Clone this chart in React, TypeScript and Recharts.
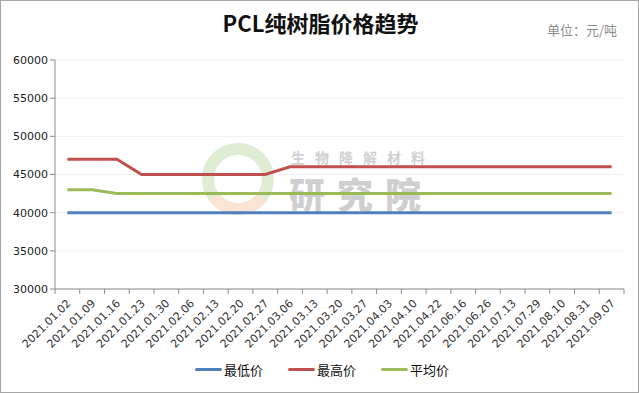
import { LineChart, Line, XAxis, YAxis, CartesianGrid } from 'recharts';

const dates = [
  '2021.01.02', '2021.01.09', '2021.01.16', '2021.01.23', '2021.01.30',
  '2021.02.06', '2021.02.13', '2021.02.20', '2021.02.27', '2021.03.06',
  '2021.03.13', '2021.03.20', '2021.03.27', '2021.04.03', '2021.04.10',
  '2021.04.22', '2021.06.16', '2021.06.26', '2021.07.13', '2021.07.29',
  '2021.08.10', '2021.08.31', '2021.09.07',
];

const lowPrice = [
  40000, 40000, 40000, 40000, 40000, 40000, 40000, 40000, 40000, 40000,
  40000, 40000, 40000, 40000, 40000, 40000, 40000, 40000, 40000, 40000,
  40000, 40000, 40000,
];

const highPrice = [
  47000, 47000, 47000, 45000, 45000, 45000, 45000, 45000, 45000, 46000,
  46000, 46000, 46000, 46000, 46000, 46000, 46000, 46000, 46000, 46000,
  46000, 46000, 46000,
];

const avgPrice = [
  43000, 43000, 42500, 42500, 42500, 42500, 42500, 42500, 42500, 42500,
  42500, 42500, 42500, 42500, 42500, 42500, 42500, 42500, 42500, 42500,
  42500, 42500, 42500,
];

const yTicks = [30000, 35000, 40000, 45000, 50000, 55000, 60000];

const seriesList = [
  { key: 'low', name: '最低价', color: '#4F81BD' },
  { key: 'high', name: '最高价', color: '#C0504D' },
  { key: 'avg', name: '平均价', color: '#9BBB59' },
];

const data = dates.map((d, i) => ({
  date: d,
  low: lowPrice[i],
  high: highPrice[i],
  avg: avgPrice[i],
}));

const W = 639;
const H = 393;
const PLOT_LEFT = 54;
const PLOT_RIGHT = 623;
const BAND = (PLOT_RIGHT - PLOT_LEFT) / dates.length;

const numFont = '"DejaVu Sans", Verdana, sans-serif';
const cjkFont = '"Noto Sans CJK SC", "Microsoft YaHei", sans-serif';

function DateTick(props: any) {
  const { x, y, payload, index } = props;
  const isLast = index === dates.length - 1;
  const tx = x + 4;
  const ty = y + 7;
  return (
    <g>
      <line x1={x - BAND / 2} y1={y - 8} x2={x - BAND / 2} y2={y - 3} stroke="#8c8c8c" />
      {isLast && (
        <line x1={x + BAND / 2} y1={y - 8} x2={x + BAND / 2} y2={y - 3} stroke="#8c8c8c" />
      )}
      <text
        x={tx}
        y={ty}
        textAnchor="end"
        transform={`rotate(-45 ${tx} ${ty})`}
        fontSize={11}
        fontFamily={numFont}
        fill="#333"
      >
        {payload.value}
      </text>
    </g>
  );
}

export default function App() {
  return (
    <div
      style={{
        position: 'fixed',
        left: 0,
        top: 0,
        width: W,
        height: H,
        background: '#fff',
        boxSizing: 'border-box',
        border: '1px solid #a6a6a6',
        overflow: 'hidden',
      }}
    >
      <div
        style={{
          position: 'absolute',
          left: 0,
          width: W,
          top: 5,
          textAlign: 'center',
          fontFamily: cjkFont,
          fontWeight: 700,
          fontSize: 22,
          color: '#111',
        }}
      >
        PCL纯树脂价格趋势
      </div>
      <div
        style={{
          position: 'absolute',
          left: 546,
          top: 19,
          fontFamily: cjkFont,
          fontSize: 13,
          color: '#8c8c8c',
        }}
      >
        单位：元/吨
      </div>

      {/* faint watermark */}
      <div style={{ position: 'absolute', left: 197, top: 138, opacity: 0.28 }}>
        <svg width={80} height={80}>
          <circle cx={40} cy={40} r={30} fill="none" stroke="#8fbf6a" strokeWidth={12} />
          <path d="M 16 58 A 30 30 0 0 0 64 58" fill="none" stroke="#f0a070" strokeWidth={12} />
        </svg>
      </div>
      <div
        style={{
          position: 'absolute',
          left: 290,
          top: 146,
          fontFamily: cjkFont,
          fontWeight: 700,
          fontSize: 14,
          letterSpacing: 10,
          color: '#bdbdbd',
          opacity: 0.7,
        }}
      >
        生物降解材料
      </div>
      <div
        style={{
          position: 'absolute',
          left: 288,
          top: 166,
          fontFamily: cjkFont,
          fontWeight: 900,
          fontSize: 36,
          letterSpacing: 12,
          color: '#b0b0b0',
          opacity: 0.6,
        }}
      >
        研究院
      </div>

      <div style={{ position: 'absolute', left: 0, top: 0 }}>
        <LineChart
          width={W}
          height={H}
          data={data}
          margin={{ top: 59, right: W - PLOT_RIGHT, bottom: 45, left: 0 }}
        >
          <CartesianGrid vertical={false} stroke="#f0f0f0" />
          <XAxis
            dataKey="date"
            interval={0}
            height={60}
            padding={{ left: BAND / 2, right: BAND / 2 }}
            tickLine={false}
            axisLine={{ stroke: '#8c8c8c' }}
            tick={<DateTick />}
          />
          <YAxis
            width={PLOT_LEFT}
            domain={[30000, 60000]}
            ticks={yTicks}
            interval={0}
            axisLine={{ stroke: '#8c8c8c' }}
            tickLine={{ stroke: '#8c8c8c' }}
            tickSize={5}
            tick={{ fontSize: 11, fontFamily: numFont, fill: '#222' }}
          />
          {seriesList.map((s) => (
            <Line
              key={s.key}
              type="linear"
              dataKey={s.key}
              name={s.name}
              stroke={s.color}
              strokeWidth={3}
              dot={false}
              isAnimationActive={false}
            />
          ))}
        </LineChart>
      </div>

      <div
        style={{
          position: 'absolute',
          left: 0,
          width: W,
          top: 359,
          display: 'flex',
          justifyContent: 'center',
          gap: 22,
          fontFamily: cjkFont,
          fontSize: 13,
          color: '#111',
        }}
      >
        {seriesList.map((s) => (
          <div key={s.key} style={{ display: 'flex', alignItems: 'center' }}>
            <div
              style={{
                width: 27,
                height: 3,
                borderRadius: 2,
                background: s.color,
                marginRight: 2,
                marginLeft: 3,
              }}
            />
            {s.name}
          </div>
        ))}
      </div>
    </div>
  );
}
